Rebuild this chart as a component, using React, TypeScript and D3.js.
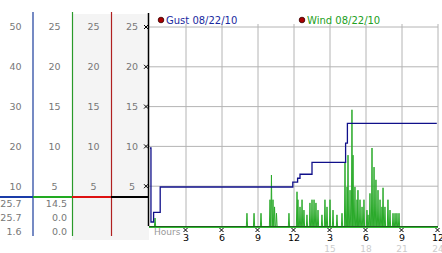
import React from "react";
import * as d3 from "d3";

const W = 442;
const H = 253;

// Left scale columns
const col1Ticks = [50, 40, 30, 20, 10];
const colTicks = [25, 20, 15, 10, 5];
const col1Values = ["25.7", "25.7", "1.6"];
const col2Values = ["14.5", "0.0", "0.0"];

// X axis
const xTickHours = [3, 6, 9, 12, 15, 18, 21, 24];
const xTickLabels = ["3", "6", "9", "12", "3", "6", "9", "12"];
const xTickLabels2 = ["15", "18", "21", "24"];
const xTickHours2 = [15, 18, 21, 24];

// Gust (step series): change times (hours) and values (mph)
const gustHours = [0, 0.08, 0.3, 0.85, 11.9, 12.3, 12.5, 13.5, 16.3, 16.45, 23.9];
const gustValues = [9.8, 0.5, 1.7, 4.9, 5.5, 6.0, 6.5, 8.0, 10.4, 12.9, 12.9];

// Wind spikes: sample time (hours) and value
const windHours = [
  0.42, 8.08, 8.67, 9.25, 10.0, 10.12, 10.25, 10.38, 10.54, 11.58,
  12.25, 12.33, 12.5, 12.67, 12.83, 13.08, 13.33, 13.5, 13.67, 13.83,
  14.0, 14.33, 14.58, 14.75, 15.0, 15.25, 15.58, 16.0, 16.25, 16.42,
  16.5, 16.67, 16.83, 16.92, 17.08, 17.25, 17.33, 17.5, 17.67, 17.83,
  18.08, 18.17, 18.33, 18.5, 18.67, 18.83, 19.0, 19.17, 19.33, 19.42,
  19.58, 19.83, 20.0, 20.25, 20.42, 20.58, 20.75,
];
const windValues = [
  1.0, 1.6, 1.6, 1.6, 3.3, 6.4, 3.3, 2.4, 1.6, 1.6,
  4.3, 3.3, 2.4, 3.3, 2.0, 1.4, 2.9, 3.3, 3.3, 2.9,
  2.0, 1.4, 3.3, 2.4, 3.3, 2.0, 1.4, 1.6, 8.0, 4.9,
  8.9, 4.5, 14.6, 8.9, 4.9, 3.3, 4.5, 3.3, 2.4, 3.3,
  2.0, 1.4, 4.1, 9.8, 7.4, 5.8, 4.5, 3.3, 2.4, 4.8,
  2.4, 3.3, 2.0, 1.6, 1.6, 1.6, 1.6,
];

const FONT = "DejaVu Sans, Verdana, sans-serif";

function Glyph({ x, y }: { x: number; y: number }) {
  return (
    <path
      d={`M${x - 2},${y - 2}L${x + 2},${y + 2}M${x + 2},${y - 2}L${x - 2},${y + 2}`}
      stroke="#000"
      strokeWidth={1}
      fill="none"
    />
  );
}

export default function App() {
  const x = d3.scaleLinear().domain([0, 24]).range([150, 438]);
  const y = d3.scaleLinear().domain([0, 25]).range([226, 27]);
  const yLeft = d3.scaleLinear().domain([0, 50]).range([226, 27]);

  const gustLine = d3
    .line<number>()
    .x((_, i) => x(gustHours[i]))
    .y((v) => y(v))
    .curve(d3.curveStepAfter)(gustValues) as string;

  // wind spikes: each sample drawn as a thin peak rising from zero
  const spikes = windHours.map((h, i) => {
    const px = x(h);
    return `M${px - 0.6},${y(0)}L${px},${y(windValues[i])}L${px + 0.6},${y(0)}`;
  });

  const gridY = [5, 10, 15, 20, 25];
  const gridX = d3.range(3, 25, 3);

  const valueRows = [204, 218, 232];

  return (
    <svg
      width={W}
      height={H}
      style={{ position: "absolute", left: 0, top: 0, background: "#fff" }}
      fontFamily={FONT}
    >
      {/* gray left panels */}
      <rect x={72} y={14} width={77} height={226} fill="#f4f4f4" />

      {/* plot area */}
      <rect x={150} y={27} width={288} height={199} fill="#fff" />
      {gridY.map((v) => (
        <line key={"gy" + v} x1={149} x2={438} y1={y(v)} y2={y(v)} stroke="#b4b4b4" />
      ))}
      {gridX.map((h) => (
        <line key={"gx" + h} x1={x(h)} x2={x(h)} y1={24} y2={226} stroke="#b4b4b4" />
      ))}

      {/* left columns */}
      <line x1={33} x2={33} y1={12} y2={236} stroke="#1a3c9c" strokeWidth={1.2} />
      <line x1={72.5} x2={72.5} y1={12} y2={236} stroke="#2a9a2a" strokeWidth={1.2} />
      <line x1={111.5} x2={111.5} y1={12} y2={236} stroke="#b02020" strokeWidth={1.2} />

      {col1Ticks.map((t) => (
        <text key={"c1" + t} x={15.5} y={yLeft(t)} dy="0.35em" textAnchor="middle" fontSize={9.5} fill="#777">
          {t}
        </text>
      ))}
      {[54.5, 93.5, 132].map((cx, ci) =>
        colTicks.map((t) => (
          <text key={"c" + ci + t} x={cx} y={y(t)} dy="0.35em" textAnchor="middle" fontSize={9.5} fill="#777">
            {t}
          </text>
        ))
      )}
      {colTicks.map((t) => (
        <Glyph key={"tg" + t} x={146} y={y(t)} />
      ))}

      {/* current value separator */}
      <line x1={0} x2={33} y1={197} y2={197} stroke="#1a3ca8" strokeWidth={2} />
      <line x1={33} x2={72} y1={197} y2={197} stroke="#22aa22" strokeWidth={2} />
      <line x1={72} x2={111} y1={197} y2={197} stroke="#dd1111" strokeWidth={2} />
      <line x1={111} x2={149} y1={197} y2={197} stroke="#000" strokeWidth={2} />

      {col1Values.map((v, i) => (
        <text key={"v1" + i} x={21.5} y={valueRows[i]} dy="0.35em" textAnchor="end" fontSize={9.5} fill="#777">
          {v}
        </text>
      ))}
      {col2Values.map((v, i) => (
        <text key={"v2" + i} x={67} y={valueRows[i]} dy="0.35em" textAnchor="end" fontSize={9.5} fill="#777">
          {v}
        </text>
      ))}

      {/* axis line */}
      <line x1={148.5} x2={148.5} y1={13} y2={226} stroke="#000" strokeWidth={1.5} />

      {/* series */}
      {spikes.map((d, i) => (
        <path key={"w" + i} d={d} fill="none" stroke="#2aaa2a" strokeWidth={1} />
      ))}
      <line x1={149} x2={438} y1={226.5} y2={226.5} stroke="#1f5f1f" strokeWidth={1} />
      <line x1={149} x2={438} y1={227.5} y2={227.5} stroke="#33bb33" strokeWidth={1} />
      <path d={gustLine} fill="none" stroke="#10108a" strokeWidth={1.3} />

      {/* legend */}
      <circle cx={161} cy={20} r={2.8} fill="#aa0000" stroke="#300" strokeWidth={0.8} />
      <text x={166} y={20} dy="0.35em" fontSize={10} fill="#1a2aa0">
        Gust 08/22/10
      </text>
      <circle cx={302} cy={20} r={2.8} fill="#aa0000" stroke="#300" strokeWidth={0.8} />
      <text x={307} y={20} dy="0.35em" fontSize={10} fill="#22a022">
        Wind 08/22/10
      </text>

      {/* x axis labels */}
      <text x={154} y={232} dy="0.35em" fontSize={9} fill="#999">
        Hours
      </text>
      {xTickHours.map((h, i) => (
        <g key={"xt" + h}>
          <Glyph x={x(h) - 0.5} y={230} />
          <text x={x(h)} y={238} dy="0.35em" textAnchor="middle" fontSize={9.5} fill="#000">
            {xTickLabels[i]}
          </text>
        </g>
      ))}
      {xTickHours2.map((h, i) => (
        <text key={"xt2" + h} x={x(h)} y={249} dy="0.35em" textAnchor="middle" fontSize={9} fill="#ccc">
          {xTickLabels2[i]}
        </text>
      ))}
    </svg>
  );
}
